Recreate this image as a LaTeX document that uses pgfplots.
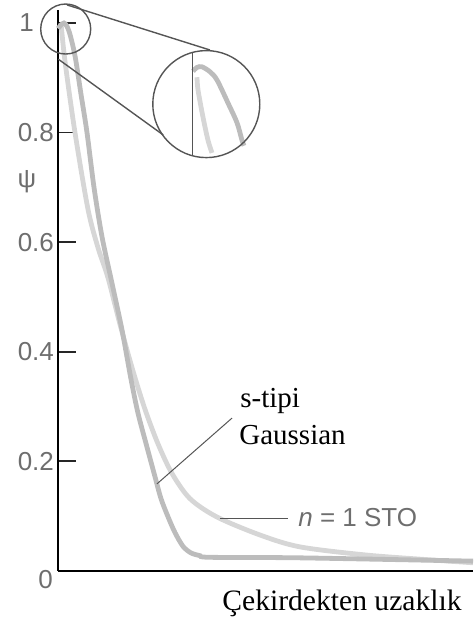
\documentclass[border=0pt]{standalone}
\usepackage{fontspec}
\setmainfont{Liberation Serif}
\setsansfont{Liberation Sans}
\usepackage{pgfplots}
\pgfplotsset{compat=1.18}
\definecolor{stoc}{RGB}{214,214,214}
\definecolor{gauc}{RGB}{188,188,188}
\definecolor{labc}{RGB}{110,110,110}
\definecolor{circc}{RGB}{85,85,85}
\begin{document}
\begin{tikzpicture}
\begin{axis}[
  x=0.5pt, y=274pt,
  xmin=0, xmax=415, ymin=0, ymax=1.024,
  axis x line=bottom, axis y line=left,
  axis line style={-, line width=1.3pt, black},
  xtick=\empty,
  ytick={0.2,0.4,0.6,0.8,1}, yticklabels={0.2,0.4,0.6,0.8,{1\rule{10pt}{0pt}}},
  tick align=inside, major tick length=9pt,
  tick style={line width=0.9pt, black!85},
  yticklabel style={font=\sffamily\fontsize{13}{15}\selectfont, text=labc, anchor=east, xshift=1.5pt},
  extra y ticks={0}, extra y tick labels={0},
  extra y tick style={major tick length=0pt, yticklabel style={yshift=-4.5pt, xshift=-0.5pt}},
  clip=false,
]
\coordinate (O) at (axis cs:0,0);
% n = 1 STO
\addplot[stoc, line width=2.4pt, smooth] coordinates {
(3,1.0) (7,0.93) (17,0.80) (30,0.66) (40,0.59) (50,0.535) (62,0.45) (75,0.365)
(87,0.295) (100,0.232) (114,0.178) (132,0.132) (159,0.0985) (202,0.0657)
(242,0.044) (309,0.029) (375,0.020) (415,0.015)};
% s-tipi Gaussian
\addplot[gauc, line width=2.4pt, smooth] coordinates {
(0,0.99) (6,1.0) (11,0.985) (17,0.94) (23,0.87) (29,0.80) (36,0.70) (44,0.61)
(54,0.525) (64,0.44) (73,0.35) (80,0.288) (89,0.226) (97,0.172) (103,0.132)
(110,0.099) (117,0.07) (125,0.045) (133,0.033) (142,0.028) (152,0.025)
(242,0.024) (415,0.018)};
% magnified curves in the inset
\addplot[gauc, line width=2.4pt, smooth] coordinates {
(135,0.912) (139,0.919) (144,0.920) (152,0.911) (159,0.896) (170,0.854) (179,0.818) (184,0.786) (186,0.776)};
\addplot[stoc, line width=2.4pt, smooth] coordinates {
(139,0.901) (140,0.878) (145,0.828) (150,0.786) (154,0.763)};
% magnifier
\draw[circc, line width=0.7pt] (axis cs:7.7,0.989) circle[radius=12.5pt];
\draw[circc, line width=0.7pt] (axis cs:148.3,0.852) circle[radius=26.75pt];
\draw[circc, line width=0.7pt] (axis cs:134.3,0.947) -- (axis cs:134.3,0.758);
\draw[circc, line width=0.7pt] (axis cs:9,1.033) -- (axis cs:152,0.9507);
\draw[circc, line width=0.7pt] (axis cs:0.3,0.934) -- (axis cs:105.3,0.7956);
% pointers
\draw[circc, line width=0.5pt] (axis cs:174,0.279) -- (axis cs:99,0.159);
\draw[circc, line width=0.5pt] (axis cs:162,0.0967) -- (axis cs:230,0.0967);
% labels
\node[anchor=base west, inner sep=0pt, font=\fontsize{14.5}{17}\selectfont] at (axis cs:182,0.299) {s-tipi};
\node[anchor=base west, inner sep=0pt, font=\fontsize{14.5}{17}\selectfont] at (axis cs:181,0.230) {Gaussian};
\node[anchor=base west, inner sep=0pt, font=\sffamily\fontsize{13}{15}\selectfont, text=labc] at (axis cs:240,0.082) {\textit{n} = 1 STO};
\node[anchor=base west, inner sep=0pt, font=\fontsize{14.8}{17}\selectfont] at (axis cs:164,-0.0712) {Çekirdekten uzaklık};
\node[inner sep=0pt, font=\sffamily\fontsize{13}{15}\selectfont, text=labc] at (axis cs:-31,0.71) {ψ};
\end{axis}
\pgfresetboundingbox
\path ([xshift=-29pt,yshift=-25.5pt]O) rectangle ([xshift=207.5pt,yshift=285.5pt]O);
\end{tikzpicture}
\end{document}
